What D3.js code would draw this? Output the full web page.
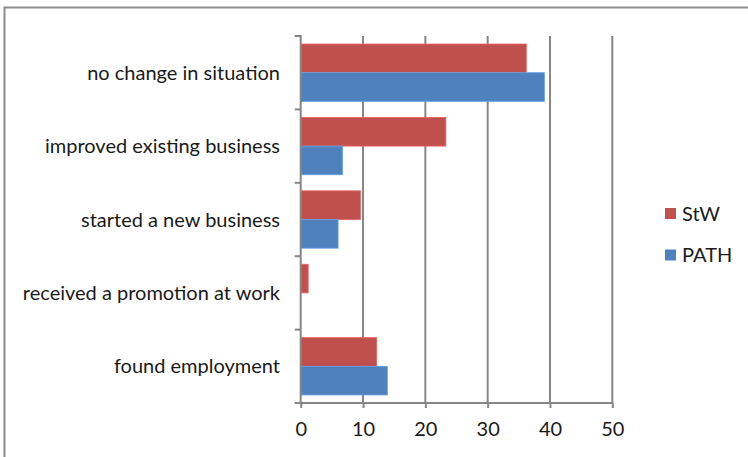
<!DOCTYPE html>
<html>
<head>
<meta charset="utf-8">
<script src="https://cdn.jsdelivr.net/npm/d3@7"></script>
<style>
  html, body { margin: 0; padding: 0; background: #fff; }
  svg { display: block; }
  text { font-family: Lato, "Liberation Sans", sans-serif; fill: #1a1a1a; }
</style>
</head>
<body>
<svg id="chart" width="748" height="457"></svg>
<script>
// Outcome categories, listed top to bottom
const categories = [
  "no change in situation",
  "improved existing business",
  "started a new business",
  "received a promotion at work",
  "found employment"
];
const seriesNames = ["StW", "PATH"];
const stwValues  = [36.2, 23.3, 9.6, 1.2, 12.2];
const pathValues = [39.1, 6.7, 6.0, 0, 13.9];
const xTicks = [0, 10, 20, 30, 40, 50];
const colors = { StW: "#C0504D", PATH: "#4F81BD" };

const fontSize = 20;
const svg = d3.select("#chart");

// outer frame
svg.append("rect")
  .attr("x", 4.5).attr("y", 7.5)
  .attr("width", 800).attr("height", 500)
  .attr("fill", "none").attr("stroke", "#8a8a8a").attr("stroke-width", 2);

const plot = { left: 300.7, right: 612.3, top: 36, bottom: 403 };

const x = d3.scaleLinear().domain([0, 50]).range([plot.left, plot.right]);
const y = d3.scaleBand().domain(categories).range([plot.top, plot.bottom]).paddingInner(0).paddingOuter(0);
const inner = d3.scaleBand().domain(seriesNames).range([0, y.bandwidth()]).paddingInner(0).paddingOuter(0.28);

const axisColor = "#868686";

// vertical gridlines
svg.append("g").selectAll("line")
  .data(xTicks.filter(d => d > 0))
  .join("line")
  .attr("x1", d => x(d)).attr("x2", d => x(d))
  .attr("y1", plot.top).attr("y2", plot.bottom)
  .attr("stroke", axisColor).attr("stroke-width", 2);

// bars
const rows = categories.map((c, i) => ({ cat: c, StW: stwValues[i], PATH: pathValues[i] }));
const groups = svg.append("g").selectAll("g")
  .data(rows)
  .join("g")
  .attr("transform", d => `translate(0,${y(d.cat)})`);

groups.selectAll("rect")
  .data(d => seriesNames.map(s => ({ s, v: d[s] })).filter(o => o.v > 0))
  .join("rect")
  .attr("x", x(0))
  .attr("y", d => inner(d.s))
  .attr("width", d => x(d.v) - x(0))
  .attr("height", inner.bandwidth())
  .attr("fill", d => colors[d.s])
  .attr("stroke", d => d3.color(colors[d.s]).brighter(0.6))
  .attr("stroke-width", 0.8);

// x axis
const xAxis = d3.axisBottom(x).tickValues(xTicks).tickSize(5).tickPadding(14).tickSizeOuter(0);
const gx = svg.append("g").attr("transform", `translate(0,${plot.bottom})`).call(xAxis);
gx.select(".domain").attr("stroke", axisColor).attr("stroke-width", 2)
  .attr("d", `M${plot.left - 6},0H${plot.right}`);
gx.selectAll(".tick line").attr("stroke", axisColor).attr("stroke-width", 2);
gx.selectAll(".tick text").attr("font-size", fontSize).attr("font-family", "Lato, 'Liberation Sans', sans-serif").attr("fill", "#1a1a1a");

// y axis: category boundaries as tick marks
const gy = svg.append("g");
gy.append("line")
  .attr("x1", plot.left).attr("x2", plot.left)
  .attr("y1", plot.top - 1).attr("y2", plot.bottom)
  .attr("stroke", axisColor).attr("stroke-width", 2);
const bounds = categories.map(c => y(c));
gy.selectAll("line.tk")
  .data(bounds)
  .join("line").attr("class", "tk")
  .attr("x1", plot.left - 6).attr("x2", plot.left)
  .attr("y1", d => d).attr("y2", d => d)
  .attr("stroke", axisColor).attr("stroke-width", 2);

gy.selectAll("text")
  .data(categories)
  .join("text")
  .attr("x", 280)
  .attr("y", d => y(d) + y.bandwidth() / 2)
  .attr("dy", "0.35em")
  .attr("text-anchor", "end")
  .attr("font-size", fontSize)
  .text(d => d);

// legend
const legend = svg.append("g").selectAll("g")
  .data(seriesNames)
  .join("g")
  .attr("transform", (d, i) => `translate(665,${208 + i * 41.5})`);
legend.append("rect")
  .attr("width", 11).attr("height", 11)
  .attr("fill", d => colors[d]);
legend.append("text")
  .attr("x", 17).attr("y", 5.5).attr("dy", "0.35em")
  .attr("font-size", fontSize)
  .text(d => d);
</script>
</body>
</html>
